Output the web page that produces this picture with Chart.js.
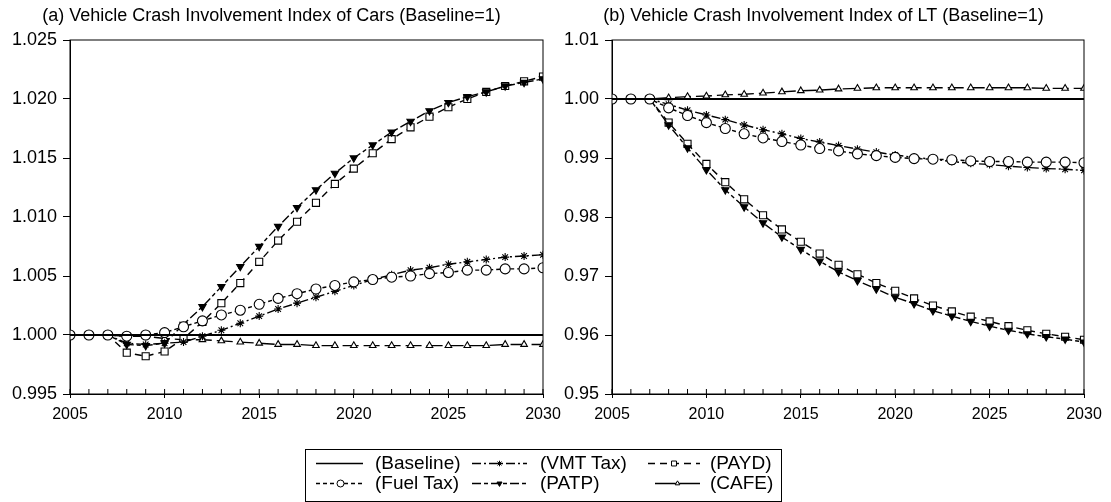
<!DOCTYPE html>
<html>
<head>
<meta charset="utf-8">
<script src="https://cdn.jsdelivr.net/npm/chart.js@4/dist/chart.umd.min.js"></script>
<style>
  body { margin: 0; background: #fff; overflow: hidden; }
  #wrap { position: relative; width: 1111px; height: 502px; overflow: hidden; font-family: "Liberation Sans", Arial, sans-serif; }
  canvas { position: absolute; }
  #legend { position: absolute; left: 305px; top: 449px; width: 477px; height: 53px; box-sizing: border-box; border: 1px solid #000; background: #fff; }
  #legend span { position: absolute; font-size: 19px; line-height: 20px; color: #000; white-space: nowrap; }
</style>
</head>
<body>
<div id="wrap">
  <canvas id="cars" width="572" height="440" style="left:0;top:0"></canvas>
  <canvas id="lt" width="564" height="440" style="left:563px;top:0"></canvas>
  <div id="legend"><canvas id="legendMarks" width="477" height="53" style="left:-1px;top:-1px"></canvas></div>
</div>
<script>
// years 2005..2030
const years = [2005,2006,2007,2008,2009,2010,2011,2012,2013,2014,2015,2016,2017,2018,2019,2020,2021,2022,2023,2024,2025,2026,2027,2028,2029,2030];

// (a) cars
const carsBaseline = [1,1,1,1,1,1,1,1,1,1,1,1,1,1,1,1,1,1,1,1,1,1,1,1,1,1];
const carsFuelTax = [1.0000,1.0000,1.0000,0.9999,1.0000,1.0002,1.0007,1.0012,1.0017,1.0021,1.0026,1.0031,1.0035,1.0039,1.0042,1.0045,1.0047,1.0049,1.0050,1.0052,1.0053,1.0055,1.0055,1.0056,1.0056,1.0057];
const carsVmtTax = [1.0000,1.0000,1.0000,0.9993,0.9992,0.9993,0.9994,0.9999,1.0004,1.0010,1.0016,1.0022,1.0027,1.0032,1.0037,1.0042,1.0047,1.0051,1.0055,1.0057,1.0060,1.0062,1.0064,1.0066,1.0067,1.0068];
const carsPatp = [1.0000,1.0000,1.0000,0.9992,0.9991,0.9993,1.0009,1.0024,1.0041,1.0058,1.0075,1.0092,1.0108,1.0123,1.0137,1.0150,1.0161,1.0172,1.0181,1.0190,1.0197,1.0202,1.0206,1.0211,1.0214,1.0217];
const carsPayd = [1.0000,1.0000,1.0000,0.9985,0.9982,0.9986,0.9997,1.0011,1.0027,1.0044,1.0062,1.0080,1.0096,1.0112,1.0128,1.0141,1.0154,1.0166,1.0176,1.0185,1.0193,1.0200,1.0206,1.0211,1.0215,1.0219];
const carsCafe = [1.0000,1.0000,1.0000,0.9999,0.9999,0.9997,0.9996,0.9996,0.9995,0.9994,0.9993,0.9992,0.9992,0.9991,0.9991,0.9991,0.9991,0.9991,0.9991,0.9991,0.9991,0.9991,0.9991,0.9992,0.9992,0.9992];

// (b) light trucks
const ltBaseline = [1,1,1,1,1,1,1,1,1,1,1,1,1,1,1,1,1,1,1,1,1,1,1,1,1,1];
const ltFuelTax = [1.0000,1.0000,1.0000,0.9985,0.9972,0.9960,0.9950,0.9941,0.9934,0.9928,0.9922,0.9916,0.9912,0.9907,0.9904,0.9901,0.9899,0.9898,0.9897,0.9895,0.9894,0.9894,0.9893,0.9893,0.9893,0.9892];
const ltVmtTax = [1.0000,1.0000,1.0000,0.9991,0.9981,0.9973,0.9965,0.9956,0.9948,0.9941,0.9933,0.9927,0.9921,0.9915,0.9910,0.9905,0.9901,0.9898,0.9894,0.9891,0.9889,0.9886,0.9884,0.9882,0.9881,0.9879];
const ltPatp = [1.0000,1.0000,1.0000,0.9956,0.9917,0.9880,0.9846,0.9817,0.9790,0.9766,0.9745,0.9725,0.9707,0.9692,0.9678,0.9664,0.9653,0.9641,0.9632,0.9623,0.9615,0.9608,0.9602,0.9597,0.9593,0.9588];
const ltPayd = [1.0000,1.0000,1.0000,0.9960,0.9924,0.9890,0.9859,0.9830,0.9803,0.9779,0.9758,0.9738,0.9719,0.9703,0.9688,0.9675,0.9662,0.9650,0.9640,0.9631,0.9623,0.9615,0.9608,0.9602,0.9597,0.9592];
const ltCafe = [1.0000,1.0000,1.0000,1.0002,1.0004,1.0005,1.0007,1.0008,1.0010,1.0012,1.0014,1.0015,1.0017,1.0018,1.0019,1.0019,1.0019,1.0019,1.0019,1.0019,1.0019,1.0019,1.0019,1.0018,1.0018,1.0018];

const seriesNames = ['(Baseline)', '(Fuel Tax)', '(VMT Tax)', '(PATP)', '(PAYD)', '(CAFE)'];

const styles = {
  '(Baseline)': { dash: [], pointStyle: false, radius: 0, width: 1.8 },
  '(Fuel Tax)': { dash: [4, 3], pointStyle: 'circle', radius: 5, fill: '#fff' },
  '(VMT Tax)': { dash: [9, 3, 2, 3], pointStyle: 'star', radius: 4, fill: '#000' },
  '(PATP)': { dash: [9, 3, 4, 3], pointStyle: 'triangle', radius: 4.2, rotation: 180, fill: '#000' },
  '(PAYD)': { dash: [7, 5], pointStyle: 'rect', radius: 5, fill: '#fff' },
  '(CAFE)': { dash: [16, 5], pointStyle: 'triangle', radius: 3.8, fill: '#fff' }
};

Chart.defaults.font.family = '"Liberation Sans", Arial, sans-serif';
Chart.defaults.color = '#000';

const framePlugin = {
  id: 'frame',
  afterDraw(chart) {
    const { ctx, chartArea: a, scales } = chart;
    ctx.save();
    ctx.strokeStyle = '#000';
    ctx.lineWidth = 1;
    ctx.strokeRect(a.left, a.top, a.right - a.left, a.bottom - a.top);
    ctx.beginPath();
    years.forEach(yr => {
      const px = scales.x.getPixelForValue(yr);
      ctx.moveTo(px, a.bottom);
      ctx.lineTo(px, a.bottom - 5);
    });
    ctx.stroke();
    ctx.restore();
  }
};

function makeDatasets(lists) {
  return seriesNames.map((name, i) => {
    const s = styles[name];
    return {
      label: name,
      data: years.map((yr, j) => ({ x: yr, y: lists[i][j] })),
      borderColor: '#000',
      borderWidth: s.width || 1.4,
      borderDash: s.dash,
      pointStyle: s.pointStyle,
      pointRadius: s.radius,
      pointRotation: s.rotation || 0,
      pointBackgroundColor: s.fill || '#fff',
      pointBorderColor: '#000',
      pointBorderWidth: 1.1,
      tension: 0
    };
  });
}

function makeChart(id, title, lists, yMin, yMax, yStep, digits, axisWidth, padRight) {
  return new Chart(document.getElementById(id), {
    type: 'line',
    data: { datasets: makeDatasets(lists) },
    plugins: [framePlugin],
    options: {
      responsive: false,
      animation: false,
      devicePixelRatio: 1,
      layout: { padding: { left: 0, right: padRight, top: 0, bottom: 0 } },
      plugins: {
        legend: { display: false },
        tooltip: { enabled: false },
        title: {
          display: true,
          text: title,
          font: { size: 18, weight: 'normal' },
          padding: { top: 5.2, bottom: 13.2 }
        }
      },
      scales: {
        x: {
          type: 'linear',
          min: 2005,
          max: 2030,
          ticks: { stepSize: 5, font: { size: 16 }, padding: 7, callback: v => String(v) },
          grid: { drawOnChartArea: false, tickLength: 4, color: '#000' },
          border: { color: '#000' },
          afterFit: s => { s.height = 46; }
        },
        y: {
          min: yMin,
          max: yMax,
          ticks: { stepSize: yStep, font: { size: 18 }, padding: 6, callback: v => v.toFixed(digits) },
          grid: { drawOnChartArea: false, tickLength: 7, color: '#000' },
          border: { color: '#000' },
          afterFit: s => { s.width = axisWidth; }
        }
      }
    }
  });
}

makeChart('cars', '(a) Vehicle Crash Involvement Index of Cars (Baseline=1)',
  [carsBaseline, carsFuelTax, carsVmtTax, carsPatp, carsPayd, carsCafe],
  0.995, 1.025, 0.005, 3, 70, 29);

makeChart('lt', '(b) Vehicle Crash Involvement Index of LT (Baseline=1)',
  [ltBaseline, ltFuelTax, ltVmtTax, ltPatp, ltPayd, ltCafe],
  0.95, 1.01, 0.01, 2, 49, 43);

// legend: sample line + marker, then text
const legendItems = [
  { name: '(Baseline)', x0: 11, x1: 58, tx: 69, row: 0 },
  { name: '(VMT Tax)', x0: 167, x1: 222, tx: 234, row: 0 },
  { name: '(PAYD)', x0: 343, x1: 395, tx: 404, row: 0 },
  { name: '(Fuel Tax)', x0: 11, x1: 60, tx: 69, row: 1 },
  { name: '(PATP)', x0: 167, x1: 222, tx: 234, row: 1 },
  { name: '(CAFE)', x0: 350, x1: 395, tx: 404, row: 1 }
];
const rowY = [14, 34];
const legendBox = document.getElementById('legend');
const lctx = document.getElementById('legendMarks').getContext('2d');
legendItems.forEach(it => {
  const s = styles[it.name];
  const y = rowY[it.row] + 0.5;
  lctx.save();
  lctx.strokeStyle = '#000';
  lctx.lineWidth = 1.3;
  lctx.setLineDash(it.name === '(CAFE)' ? [] : s.dash);
  lctx.beginPath();
  lctx.moveTo(it.x0, y);
  lctx.lineTo(it.x1, y);
  lctx.stroke();
  lctx.setLineDash([]);
  if (s.pointStyle) {
    lctx.fillStyle = s.fill;
    lctx.lineWidth = 1;
    Chart.helpers.drawPoint(lctx, { pointStyle: s.pointStyle, radius: s.radius * 0.7, rotation: s.rotation || 0, borderWidth: 1 }, (it.x0 + it.x1) / 2, y);
  }
  lctx.restore();
  const sp = document.createElement('span');
  sp.textContent = it.name;
  sp.style.left = it.tx + 'px';
  sp.style.top = (rowY[it.row] - 11) + 'px';
  legendBox.appendChild(sp);
});
</script>
</body>
</html>
